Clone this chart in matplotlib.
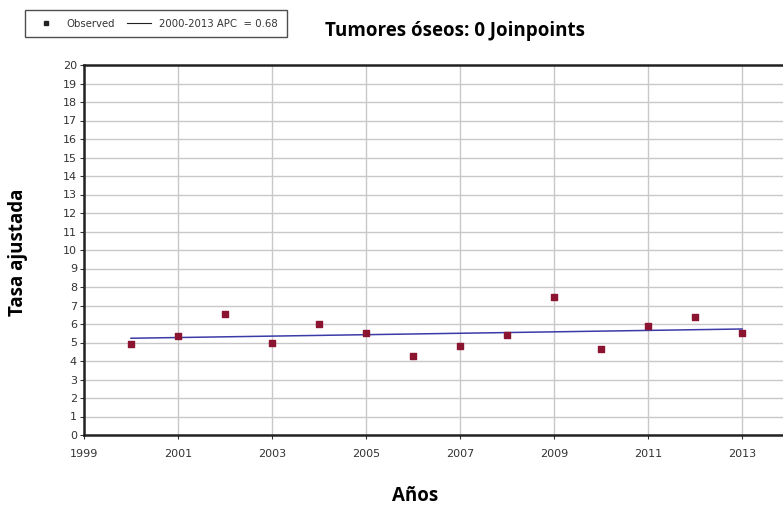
import matplotlib.pyplot as plt
from matplotlib.lines import Line2D

# Observed adjusted rates
years = [2000, 2001, 2002, 2003, 2004, 2005, 2006,
         2007, 2008, 2009, 2010, 2011, 2012, 2013]
observed = [4.9, 5.37, 6.56, 4.97, 5.98, 5.5, 4.29,
            4.79, 5.38, 7.44, 4.67, 5.89, 6.4, 5.5]

# Joinpoint fit (single segment, APC = 0.68)
fit_years = [2000, 2013]
fit_values = [5.23, 5.73]

x_ticks = [1999, 2001, 2003, 2005, 2007, 2009, 2011, 2013]
y_ticks = list(range(0, 21))

fig = plt.figure(figsize=(7.83, 5.05), dpi=100)
ax = fig.add_axes([84 / 783, 70 / 505, 699 / 783, 370 / 505])

ax.plot(fit_years, fit_values, color='#3b3ba8', linewidth=1.1, zorder=3)
ax.scatter(years, observed, marker='s', s=20, color='#8b1530', zorder=4)

ax.set_xlim(1999, 2013.87)
ax.set_ylim(0, 20)
ax.set_xticks(x_ticks)
ax.set_yticks(y_ticks)
ax.tick_params(labelsize=8, colors='#333333', length=3, width=0.8)
ax.tick_params(axis='x', pad=7)
ax.tick_params(axis='y', pad=2)
ax.grid(True, color='#c8c8c8', linewidth=1.0)
ax.set_axisbelow(True)

for side in ['left', 'bottom', 'top']:
    ax.spines[side].set_linewidth(1.8)
    ax.spines[side].set_color('#222222')
ax.spines['right'].set_visible(False)

label_font = dict(fontsize=13.5, fontweight='bold', family='Open Sans',
                  ha='center', va='center')
fig.text(455 / 783, 1 - 31 / 505, 'Tumores óseos: 0 Joinpoints', **label_font)
fig.text(18 / 783, 1 - 252 / 505, 'Tasa ajustada', rotation=90, **label_font)
fig.text(415 / 783, 1 - 496 / 505, 'Años', **label_font)

handles = [
    Line2D([], [], marker='s', linestyle='none', color='#222222', markersize=2.5),
    Line2D([], [], color='#222222', linewidth=0.8),
]
leg = fig.legend(handles, ['Observed', '2000-2013 APC  = 0.68'],
                 loc='upper left', bbox_to_anchor=(25 / 783, 1 - 10 / 505),
                 ncol=2, fontsize=7.3, frameon=True, fancybox=False,
                 handlelength=2.4, columnspacing=1.2, borderpad=0.85,
                 handletextpad=0.8, borderaxespad=0)
leg.get_frame().set_edgecolor('#222222')
leg.get_frame().set_linewidth(1.0)
for t in leg.get_texts():
    t.set_color('#333333')

fig.savefig('out.png', dpi=100)
